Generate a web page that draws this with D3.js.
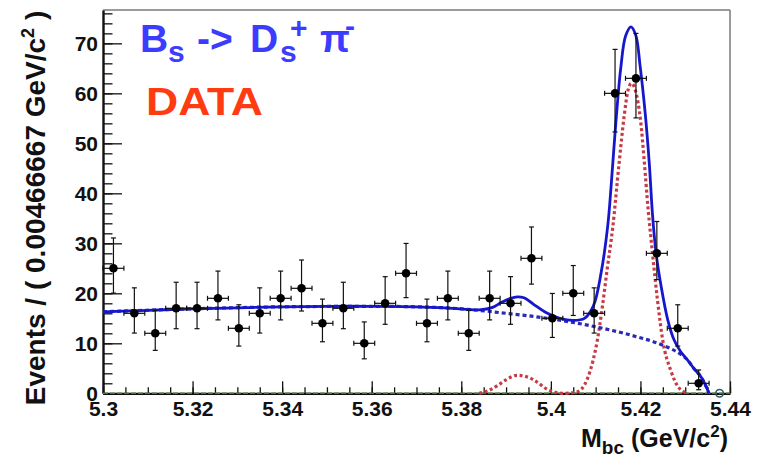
<!DOCTYPE html>
<html>
<head>
<meta charset="utf-8">
<script src="https://cdn.jsdelivr.net/npm/d3@7"></script>
<style>
  html, body { margin: 0; padding: 0; background: #fff; }
  svg { display: block; }
  text { font-family: "Liberation Sans", Arial, sans-serif; }
</style>
</head>
<body>
<svg id="chart" width="757" height="458"></svg>
<script>
// ---------------- data ----------------
const binStart = 5.3;
const binWidth = 0.00466667;
const counts = [25, 16, 12, 17, 17, 19, 13, 16, 19, 21,
                14, 17, 10, 18, 24, 14, 19, 12, 19, 18,
                27, 15, 20, 16, 60, 63, 28, 13, 2, 0];

const xTickValues = [5.30, 5.32, 5.34, 5.36, 5.38, 5.40, 5.42, 5.44];
const xTickLabels = ["5.3", "5.32", "5.34", "5.36", "5.38", "5.4", "5.42", "5.44"];
const yTickValues = [0, 10, 20, 30, 40, 50, 60, 70];
const yTickLabels = ["0", "10", "20", "30", "40", "50", "60", "70"];

// total fit (solid blue) [mass, events]
const totalFit = [[5.300,16.3],[5.310,16.6],[5.320,16.9],[5.330,17.1],[5.340,17.3],[5.350,17.4],
  [5.360,17.4],[5.370,17.3],[5.378,17.0],[5.384,16.7],[5.387,17.2],[5.389,18.2],[5.391,19.0],
  [5.3925,19.3],[5.394,19.1],[5.396,17.9],[5.399,16.1],[5.402,15.0],[5.405,14.6],[5.4075,15.0],[5.4095,17.5],
  [5.4112,24],[5.4127,33.5],[5.4135,42],[5.4145,54],[5.4156,65],[5.4167,71.5],[5.4179,73.3],
  [5.4190,71.5],[5.4199,65.7],[5.4211,55.7],[5.4220,45.7],[5.4227,35.7],[5.4235,28],[5.4246,21.5],
  [5.4261,14.7],[5.4275,10.7],[5.4290,8.3],[5.4305,6.7],[5.4319,5.0],[5.4335,3.3],[5.4346,1.5],[5.4353,0]];

// background (dotted blue)
const bkgFit = [[5.300,16.3],[5.320,16.9],[5.340,17.3],[5.360,17.4],[5.370,17.3],[5.380,16.9],
  [5.390,16.0],[5.400,14.9],[5.410,13.3],[5.418,11.6],[5.425,9.6],[5.429,7.8],[5.4305,6.7],
  [5.4319,5.0],[5.4335,3.3],[5.4346,1.5],[5.4353,0]];

// signal (dotted red)
const sigFit = [[5.384,0],[5.386,0.5],[5.388,1.5],[5.390,2.7],[5.3925,3.6],[5.395,3.2],[5.397,2.2],
  [5.399,0.9],[5.401,0.2],[5.403,0],[5.4055,0.2],[5.4068,0.8],[5.4082,3],[5.4094,6.5],[5.4104,10.7],
  [5.4115,17.3],[5.4126,25],[5.4138,33],[5.4152,45.7],[5.4164,55.7],[5.4172,60.5],[5.4180,62],
  [5.4189,60.5],[5.4201,54],[5.4208,47],[5.4217,37],[5.4227,28],[5.4238,18.7],[5.4250,10.5],
  [5.4268,4.5],[5.4285,1.2],[5.4305,0]];

// ---------------- layout ----------------
const svg = d3.select("#chart");
const L = 103, R = 730, T = 10, B = 393.3;
const x = d3.scaleLinear().domain([5.3, 5.44]).range([L, R]);
const y = d3.scaleLinear().domain([0, 76.67]).range([B, T]);

// Poisson (Gehrels approx.) error bars
function errHi(n) { return Math.sqrt(n + 0.75) + 1; }
function errLo(n) { return n <= 0 ? 0 : n - n * Math.pow(1 - 1 / (9 * n) - 1 / (3 * Math.sqrt(n)), 3); }

// frame (top/right)
svg.append("line").attr("x1", L).attr("x2", R).attr("y1", T).attr("y2", T)
  .attr("stroke", "#7a7a7a").attr("stroke-width", 1.5);
svg.append("line").attr("x1", R).attr("x2", R).attr("y1", T).attr("y2", B)
  .attr("stroke", "#7a7a7a").attr("stroke-width", 1.5);

// axes
const xMinor = d3.range(0, 29).map(i => 5.3 + i * 0.005);
svg.append("g").attr("transform", `translate(0,${B})`)
  .call(d3.axisBottom(x).tickValues(xMinor).tickSize(-6).tickFormat("").tickSizeOuter(0))
  .call(g => g.select(".domain").remove())
  .call(g => g.selectAll("line").attr("stroke", "#111").attr("stroke-width", 1.3));
svg.append("g").attr("transform", `translate(0,${B})`)
  .call(d3.axisBottom(x).tickValues(xTickValues).tickSize(-12).tickPadding(8).tickSizeOuter(0)
    .tickFormat((d, i) => xTickLabels[i]))
  .call(g => g.select(".domain").attr("stroke", "#111").attr("stroke-width", 2.2))
  .call(g => g.selectAll("line").attr("stroke", "#111").attr("stroke-width", 1.3))
  .call(g => g.selectAll("text").attr("font-size", 21).attr("font-weight", "bold")
    .attr("fill", "#111").attr("font-family", "Liberation Sans, Arial, sans-serif"));

const yMinor = d3.range(0, 39).map(i => i * 2);
svg.append("g").attr("transform", `translate(${L},0)`)
  .call(d3.axisLeft(y).tickValues(yMinor).tickSize(-9.5).tickFormat("").tickSizeOuter(0))
  .call(g => g.select(".domain").remove())
  .call(g => g.selectAll("line").attr("stroke", "#111").attr("stroke-width", 1.3));
svg.append("g").attr("transform", `translate(${L},0)`)
  .call(d3.axisLeft(y).tickValues(yTickValues).tickSize(-19).tickPadding(5).tickSizeOuter(0)
    .tickFormat((d, i) => yTickLabels[i]))
  .call(g => g.select(".domain").attr("stroke", "#111").attr("stroke-width", 2.4))
  .call(g => g.selectAll("line").attr("stroke", "#111").attr("stroke-width", 1.3))
  .call(g => g.selectAll("text").attr("font-size", 21).attr("font-weight", "bold")
    .attr("fill", "#111").attr("font-family", "Liberation Sans, Arial, sans-serif"));

// green zero line
svg.append("line").attr("x1", x(5.3)).attr("x2", x(5.44)).attr("y1", y(0)).attr("y2", y(0))
  .attr("stroke", "#3f7f2a").attr("stroke-width", 1.6).attr("stroke-dasharray", "5,2");

// curves
const smooth = d3.line().x(d => x(d[0])).y(d => y(Math.max(0, d[1]))).curve(d3.curveCatmullRom.alpha(0.5));
const mono = d3.line().x(d => x(d[0])).y(d => y(d[1])).curve(d3.curveMonotoneX);
svg.append("path").datum(sigFit).attr("d", mono).attr("fill", "none")
  .attr("stroke", "#c83a44").attr("stroke-width", 3.2).attr("stroke-dasharray", "3,2.6");
svg.append("path").datum(bkgFit).attr("d", mono).attr("fill", "none")
  .attr("stroke", "#2a2ab4").attr("stroke-width", 3.2).attr("stroke-dasharray", "4,3");
svg.append("path").datum(totalFit).attr("d", smooth).attr("fill", "none")
  .attr("stroke", "#1616cc").attr("stroke-width", 2.8);

// data points
const pts = counts.map((n, i) => ({ c: binStart + (i + 0.5) * binWidth, n, i }));
const gPts = svg.append("g");
const filled = pts.filter(d => d.n > 0);
const half = binWidth / 2;
filled.forEach(d => {
  const g = gPts.append("g").attr("stroke", "#111").attr("stroke-width", 1.2);
  const xc = x(d.c), yc = y(d.n);
  const yt = y(d.n + errHi(d.n)), yb = y(d.n - errLo(d.n));
  const xl = x(d.c - half), xr = x(d.c + half);
  g.append("line").attr("x1", xc).attr("x2", xc).attr("y1", yt).attr("y2", yb);
  g.append("line").attr("x1", xl).attr("x2", xr).attr("y1", yc).attr("y2", yc);
  g.append("line").attr("x1", xc - 2.5).attr("x2", xc + 2.5).attr("y1", yt).attr("y2", yt);
  g.append("line").attr("x1", xc - 2.5).attr("x2", xc + 2.5).attr("y1", yb).attr("y2", yb);
  g.append("line").attr("x1", xl).attr("x2", xl).attr("y1", yc - 2.5).attr("y2", yc + 2.5);
  g.append("line").attr("x1", xr).attr("x2", xr).attr("y1", yc - 2.5).attr("y2", yc + 2.5);
});
gPts.selectAll("circle.f").data(filled).join("circle").attr("class", "f")
  .attr("cx", d => x(d.c)).attr("cy", d => y(d.n)).attr("r", 4.3).attr("fill", "#000");
gPts.selectAll("circle.e").data(pts.filter(d => d.n === 0)).join("circle").attr("class", "e")
  .attr("cx", d => x(d.c)).attr("cy", d => y(d.n)).attr("r", 3.8)
  .attr("fill", "none").attr("stroke", "#2f5a66").attr("stroke-width", 1.5);

// y-axis title
const yt = svg.append("text")
  .attr("transform", "translate(45,208) rotate(-90)")
  .attr("text-anchor", "middle").attr("font-size", 28).attr("font-weight", "bold").attr("fill", "#111");
yt.append("tspan").text("Events / ( 0.00466667 GeV/c");
yt.append("tspan").attr("dy", -11).attr("font-size", 18).text("2");
yt.append("tspan").attr("dy", 11).text(" )");

// x-axis title
const xt = svg.append("text").attr("x", 728).attr("y", 447).attr("text-anchor", "end")
  .attr("font-size", 25).attr("font-weight", "bold").attr("fill", "#111");
xt.append("tspan").text("M");
xt.append("tspan").attr("dy", 7).attr("font-size", 19).text("bc");
xt.append("tspan").attr("dy", -7).text(" (GeV/c");
xt.append("tspan").attr("dy", -10).attr("font-size", 17).text("2");
xt.append("tspan").attr("dy", 10).text(")");

// title label
const blue = "#3c3cff";
const tg = svg.append("g").attr("fill", blue).attr("font-weight", "bold");
tg.append("text").attr("x", 140).attr("y", 52).attr("font-size", 39).text("B");
tg.append("text").attr("x", 168).attr("y", 62).attr("font-size", 30).text("s");
tg.append("text").attr("x", 197).attr("y", 52).attr("font-size", 39).text("->");
tg.append("text").attr("x", 250).attr("y", 52).attr("font-size", 39).text("D");
tg.append("text").attr("x", 280).attr("y", 62).attr("font-size", 30).text("s");
tg.append("text").attr("x", 290).attr("y", 38).attr("font-size", 30).text("+");
tg.append("text").attr("x", 320).attr("y", 52).attr("font-size", 39).text("π");
tg.append("text").attr("x", 345).attr("y", 36).attr("font-size", 30).text("-");

// DATA label
svg.append("text").attr("x", 146).attr("y", 115).attr("font-size", 39)
  .attr("font-family", "DejaVu Sans, sans-serif").attr("font-weight", "bold")
  .attr("fill", "#ff3b12").attr("textLength", 117).attr("lengthAdjust", "spacingAndGlyphs").text("DATA");
</script>
</body>
</html>
